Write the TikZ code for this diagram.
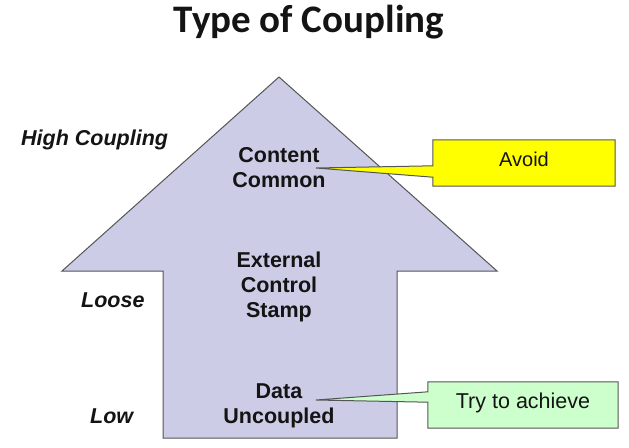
\documentclass[tikz,border=0pt]{standalone}
\usepackage{fontspec}
\setmainfont{Liberation Sans}
\newfontfamily\titlefont{Carlito}
\usetikzlibrary{calc}
\pgfdeclarelayer{arrowlayer}
\pgfdeclarelayer{calloutlayer}
\pgfsetlayers{arrowlayer,calloutlayer,main}
\definecolor{arrowfill}{RGB}{204,204,230}
\definecolor{edgegray}{RGB}{85,85,85}
\definecolor{inkcol}{RGB}{20,20,20}
\definecolor{avoidfill}{RGB}{255,255,0}
\definecolor{achievefill}{RGB}{204,255,204}
\tikzset{
  kind/.style={anchor=base, inner sep=0pt, text=inkcol,
    font=\fontsize{21.5}{25}\selectfont\bfseries},
  level/.style={anchor=base west, inner sep=0pt, text=inkcol,
    font=\fontsize{21.5}{24}\selectfont\bfseries\itshape},
  note/.style={inner sep=0pt, text=inkcol, font=\fontsize{20}{24}\selectfont},
  notebox/.style={draw=none, inner sep=0pt},
  outline/.style={draw=edgegray, line width=1pt, line join=miter},
}
\begin{document}
\begin{tikzpicture}[x=1pt, y=-1pt]
\useasboundingbox (0,0) rectangle (629,447);

% title
\node[anchor=base, inner sep=0pt, text=inkcol,
      font=\fontsize{39}{42}\selectfont\titlefont\bfseries]
      (title) at (309,32) {Type of Coupling};

% the big upward arrow
\begin{pgfonlayer}{arrowlayer}
\draw[outline, fill=arrowfill] (279,77) -- (497,271) -- (397,271) -- (397,438)
  -- (163,438) -- (163,271) -- (62,271) -- cycle;
\end{pgfonlayer}

% coupling kinds inside the arrow
\node[kind] (content)  at (279,162) {Content};
\node[kind] (common)   at (279,187) {Common};
\node[kind] (external) at (279,267) {External};
\node[kind] (control)  at (279,292) {Control};
\node[kind] (stamp)    at (279,317) {Stamp};
\node[kind] (data)     at (279,398) {Data};
\node[kind] (uncoupled) at (279,423) {Uncoupled};

% levels on the left
\node[level] (high)  at (21,145) {High Coupling};
\node[level] (loose) at (81,307) {Loose};
\node[level] (low)   at (90,423) {Low};

% callout boxes
\node[notebox, minimum width=182pt, minimum height=46pt] (avoid) at (524,163) {};
\node[note, anchor=base] (avoidtext) at (524,166) {Avoid};
\coordinate (avoidtip) at (316,168);

\node[notebox, minimum width=190pt, minimum height=46pt] (achieve) at (523,405) {};
\node[note, anchor=base, font=\fontsize{21.5}{24}\selectfont] (achievetext) at (523,408) {Try to achieve};
\coordinate (achievetip) at (316,400);

\begin{pgfonlayer}{calloutlayer}
\draw[outline, fill=avoidfill] (avoid.north west) -- (avoid.north east)
  -- (avoid.south east) -- (avoid.south west)
  -- ($(avoid.south west)+(0,-9)$) -- (avoidtip)
  -- ($(avoid.north west)+(0,26)$) -- cycle;
\draw[outline, fill=achievefill] (achieve.north west) -- (achieve.north east)
  -- (achieve.south east) -- (achieve.south west)
  -- ($(achieve.south west)+(0,-26)$) -- (achievetip)
  -- ($(achieve.north west)+(0,10)$) -- cycle;
\end{pgfonlayer}
\end{tikzpicture}
\end{document}
